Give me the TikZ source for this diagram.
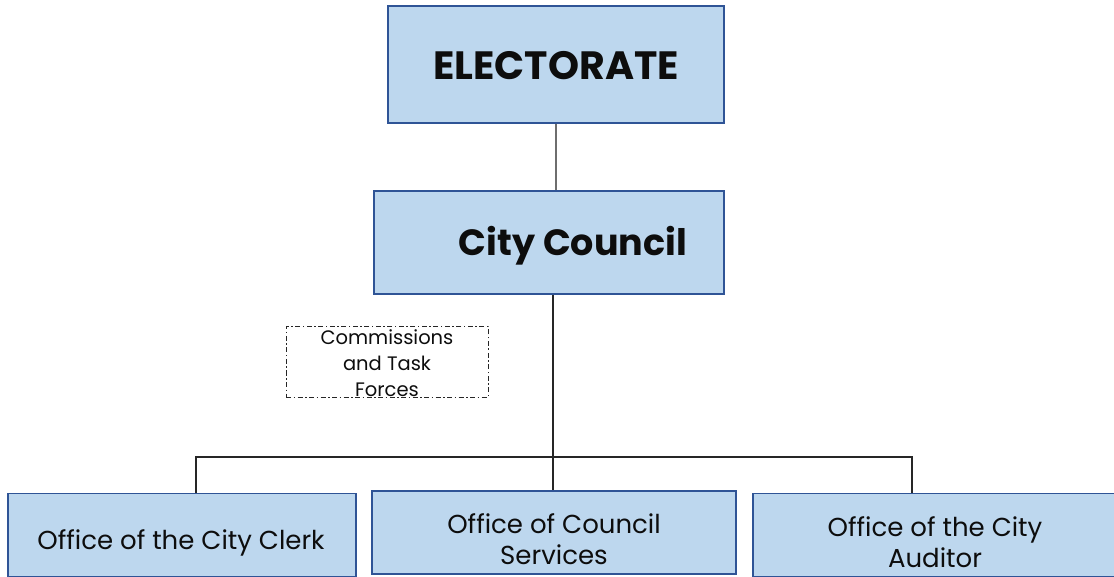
\documentclass[tikz,border=0pt]{standalone}
\usepackage{fontspec}
\setmainfont{Poppins}
\definecolor{boxfill}{RGB}{189,215,238}
\definecolor{boxline}{RGB}{47,84,150}
\definecolor{greyline}{RGB}{110,110,110}
\begin{document}
\begin{tikzpicture}[x=1pt,y=-1pt,
  orgbox/.style={draw=boxline,fill=boxfill,line width=1.3pt,inner sep=0pt},
  conn/.style={draw=black!85,line width=1.2pt},
  lbl/.style={inner sep=0pt,align=center,text=black!95}]
\useasboundingbox (0,0) rectangle (1114,577);
% boxes
\node[orgbox,minimum width=336pt,minimum height=117pt] (elect) at (556,64.5) {};
\node[lbl,font=\bfseries\fontsize{39.5}{44}\selectfont] (electT) at (556,66) {ELECTORATE};
\node[orgbox,minimum width=350pt,minimum height=103pt] (council) at (549,242.5) {};
\node[lbl,font=\bfseries\fontsize{36.5}{40}\selectfont] (councilT) at (573,246) {City Council};
\node[draw=black!85,line width=1pt,dash pattern=on 5pt off 2.5pt on 1.5pt off 2.5pt,
  minimum width=202pt,minimum height=70pt,inner sep=0pt] (comm) at (387,362) {};
\node[lbl,font=\fontsize{19.5}{26}\selectfont] (commT) at (387,363) {Commissions\\and Task\\Forces};
\node[orgbox,minimum width=348pt,minimum height=83pt] (clerk) at (182,535) {};
\node[lbl,font=\fontsize{26}{31}\selectfont] (clerkT) at (181,542.5) {Office of the City Clerk};
\node[orgbox,minimum width=364pt,minimum height=83pt] (serv) at (554,532.5) {};
\node[lbl,font=\fontsize{26}{31}\selectfont] (servT) at (554,539) {Office of Council\\Services};
\node[orgbox,minimum width=362pt,minimum height=83pt] (aud) at (934,535) {};
\node[lbl,font=\fontsize{26}{31}\selectfont] (audT) at (935,542) {Office of the City\\Auditor};
% connectors
\coordinate (jl) at (196,457);
\coordinate (jr) at (912,457);
\coordinate (jm) at (553,457);
\draw[draw=greyline,line width=2pt] (elect.south) -- (council.north -| elect.south);
\draw[conn] (council.south -| jm) -- (serv.north -| jm);
\draw[conn] (clerk.north -| jl) -- (jl) -- (jr) -- (aud.north -| jr);
\end{tikzpicture}
\end{document}
